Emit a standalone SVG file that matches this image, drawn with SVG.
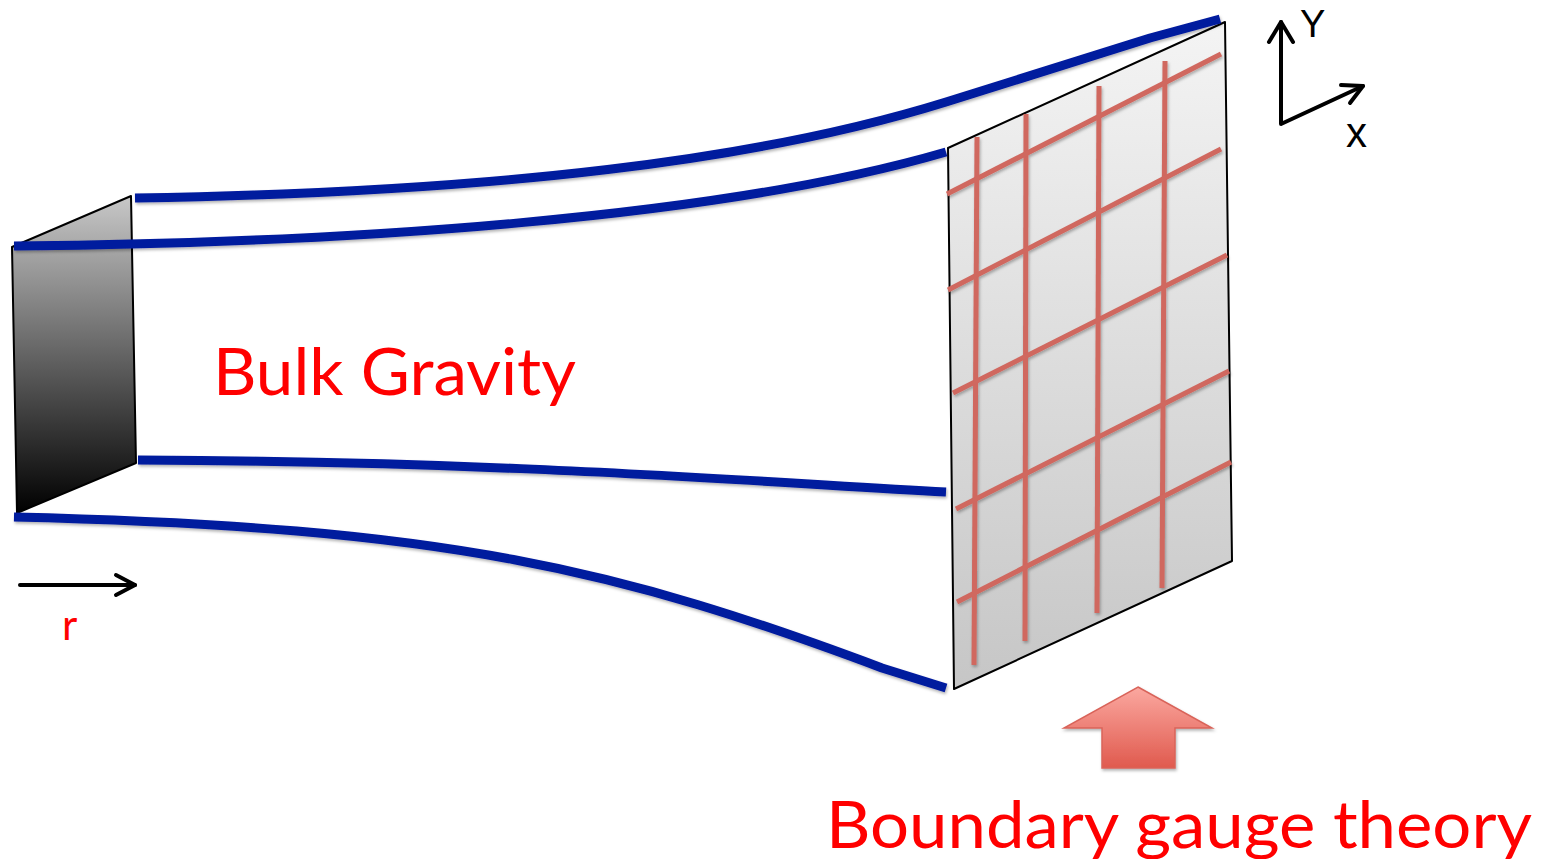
<svg xmlns="http://www.w3.org/2000/svg" width="1552" height="859" viewBox="0 0 1552 859">
  <style>
    .blue { fill: none; stroke: #001a9e; stroke-width: 9; stroke-linejoin: round; }
    .grid { stroke: #d0675f; stroke-width: 5; fill: none; }
    .axis { stroke: #000; stroke-width: 4; fill: none; stroke-linecap: round; stroke-linejoin: round; }
    .lbl { font-family: Lato, "Liberation Sans", sans-serif; fill: #ff0000; }
  </style>
  <defs>
    <linearGradient id="gLeft" x1="0" y1="0" x2="0" y2="1">
      <stop offset="0" stop-color="#c8c8c8"/>
      <stop offset="1" stop-color="#000000"/>
    </linearGradient>
    <linearGradient id="gRight" x1="0" y1="0" x2="0" y2="1">
      <stop offset="0" stop-color="#f4f4f4"/>
      <stop offset="1" stop-color="#c6c6c6"/>
    </linearGradient>
    <linearGradient id="gArrow" x1="0" y1="0" x2="0" y2="1">
      <stop offset="0" stop-color="#fba8a0"/>
      <stop offset="1" stop-color="#e05a4e"/>
    </linearGradient>
    <filter id="sh" x="-5%" y="-5%" width="110%" height="115%">
      <feDropShadow dx="1" dy="2" stdDeviation="1.5" flood-color="#000" flood-opacity="0.3"/>
    </filter>
  </defs>
  <rect width="1552" height="859" fill="#ffffff"/>

  <g id="left-panel">
    <polygon points="12,247 131,196 136,463 17,513" fill="url(#gLeft)" stroke="#000" stroke-width="2" stroke-linejoin="round"/>
  </g>

  <g id="right-panel">
    <polygon points="948,148 1225,22 1232,561 954,689" fill="url(#gRight)" stroke="#000" stroke-width="2" stroke-linejoin="round"/>
    <g id="grid" filter="url(#sh)">
      <line class="grid" x1="977" y1="137" x2="974" y2="665"/>
      <line class="grid" x1="1026" y1="114" x2="1025" y2="641"/>
      <line class="grid" x1="1099" y1="86" x2="1097" y2="613"/>
      <line class="grid" x1="1165" y1="61" x2="1162" y2="588"/>
      <line class="grid" x1="947" y1="194" x2="1221" y2="54"/>
      <line class="grid" x1="948" y1="290" x2="1221" y2="149"/>
      <line class="grid" x1="953" y1="393" x2="1227" y2="255"/>
      <line class="grid" x1="956" y1="509" x2="1229" y2="371"/>
      <line class="grid" x1="957" y1="602" x2="1231" y2="462"/>
    </g>
  </g>

  <g id="connectors" filter="url(#sh)">
    <path class="blue" d="M135,198 C500,192 760,160 946,102 L1150,38 L1220,19"/>
    <path class="blue" d="M14,246 C350,243 720,218 946,152"/>
    <path class="blue" d="M138,460 C500,462 700,478 946,492"/>
    <path class="blue" d="M14,517 C450,527 620,570 882,668 L946,688"/>
  </g>

  <g id="axes">
    <path class="axis" d="M1281,22 L1281,124 L1363,86"/>
    <path class="axis" d="M1269,42 L1281,22 L1293,42"/>
    <path class="axis" d="M1341,85 L1363,86 L1350,103"/>
    <text x="1300" y="37" font-family="Liberation Sans, sans-serif" font-size="38" fill="#000">Y</text>
    <text x="1346" y="147" font-family="Liberation Sans, sans-serif" font-size="42" fill="#000">x</text>
  </g>

  <g id="r-axis">
    <path class="axis" d="M20,585 L135,585"/>
    <path class="axis" d="M116,575 L135,585 L116,595"/>
    <text class="lbl" x="62" y="640" font-size="42">r</text>
  </g>

  <g id="bulk-label">
    <text class="lbl" x="213" y="395" font-size="66" textLength="363" lengthAdjust="spacingAndGlyphs">Bulk Gravity</text>
  </g>

  <g id="boundary-arrow" filter="url(#sh)">
    <polygon points="1138,687 1212,728 1175,728 1175,768 1102,768 1102,728 1064,728" fill="url(#gArrow)" stroke="#d9645a" stroke-width="1.5"/>
  </g>

  <g id="boundary-label">
    <text class="lbl" x="826" y="848" font-size="66" textLength="706" lengthAdjust="spacingAndGlyphs">Boundary gauge theory</text>
  </g>
</svg>
